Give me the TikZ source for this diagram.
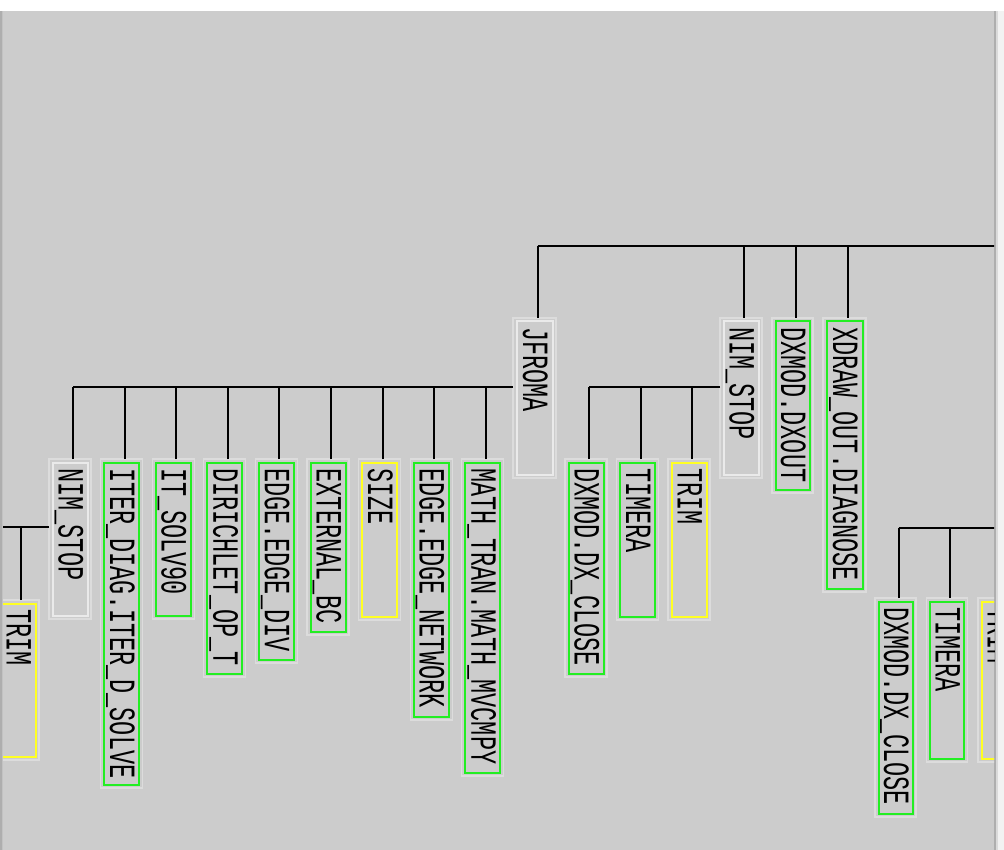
\documentclass[tikz,border=0pt]{standalone}
\usepackage{fontspec}
\newfontfamily\pixfont[FakeStretch=0.635]{Liberation Mono}
\usetikzlibrary{calc}
\definecolor{panel}{HTML}{CCCCCC}
\definecolor{frameout}{HTML}{DCDCDC}
\definecolor{framein}{HTML}{EAEAEA}
\definecolor{gbox}{HTML}{22EE22}
\definecolor{ybox}{HTML}{FFFF22}
\definecolor{edgedark}{HTML}{AEAEAE}
\definecolor{edgemid}{HTML}{C2C2C2}
\definecolor{edgelight}{HTML}{DADADA}
\definecolor{edgewhite}{HTML}{F2F2F2}
\newcommand\treebox[7]{%
  \node[boxframe, minimum width={(#4-#2)*1pt}, minimum height={(#5-#3)*1pt}] (#1) at ({(#2+#4)/2},{(#3+#5)/2}) {};
  \draw[#6, line width=2pt] ($(#1.north west)+(3.5,3.5)$) rectangle ($(#1.south east)+(-3.5,-3.5)$);
  \node[lab] (#1-t) at ($(#1.north)+(0,9)$) {#7};
  \coordinate (#1-d) at ($(#1.north)+(3,0)$);
}
\begin{document}
\begin{tikzpicture}[x=1pt,y=-1pt,
  wire/.style={draw=black, line width=2pt},
  boxframe/.style={rectangle, draw=frameout, line width=1.2pt, inner sep=0pt, outer sep=0pt},
  plain/.style={draw=framein, line width=1.2pt},
  green/.style={draw=gbox},
  yellow/.style={draw=ybox},
  lab/.style={rotate=-90, anchor=west, inner sep=0pt, text=black,
    font=\pixfont\fontsize{37}{37}\selectfont, text height=23pt, text depth=0pt}]
\useasboundingbox (0,0) rectangle (1004,850);
\fill[white] (0,0) rectangle (1004,850);
\fill[panel] (0,11) rectangle (996,850);
\fill[edgedark] (0,11) rectangle (1.5,850);
\fill[edgemid] (1.5,11) rectangle (3,850);
\fill[edgedark] (994,11) rectangle (996,850);
\fill[edgelight] (996,11) rectangle (998,850);
\fill[edgewhite] (998,11) rectangle (1004,850);
\begin{scope}
\clip (3,11) rectangle (994,850);
% top level
\treebox{jfroma}{513}{318}{556}{478}{plain}{JFROMA}
\treebox{nimA}{720}{318}{762}{478}{plain}{NIM\_STOP}
\treebox{dxout}{772}{318}{813}{493}{green}{DXMOD.DXOUT}
\treebox{xdraw}{823}{318}{866}{592}{green}{XDRAW\_OUT.DIAGNOSE}
% children of JFROMA
\treebox{nimB}{49}{459}{91}{619}{plain}{NIM\_STOP}
\treebox{iter}{100.6}{459}{142.6}{788}{green}{ITER\_DIAG.ITER\_D\_SOLVE}
\treebox{itsolv}{152.2}{459}{194.2}{619}{green}{IT\_SOLV90}
\treebox{dirich}{203.8}{459}{245.8}{677}{green}{DIRICHLET\_OP\_T}
\treebox{edgediv}{255.4}{459}{297.4}{663}{green}{EDGE.EDGE\_DIV}
\treebox{extbc}{307}{459}{349}{635}{green}{EXTERNAL\_BC}
\treebox{size}{358.6}{459}{400.6}{620}{yellow}{SIZE}
\treebox{edgenet}{410.2}{459}{452.2}{720}{green}{EDGE.EDGE\_NETWORK}
\treebox{mathtran}{461.8}{459}{503.8}{776}{green}{MATH\_TRAN.MATH\_MVCMPY}
% child of left NIM_STOP
\treebox{trimA}{-3}{600}{39}{760}{yellow}{TRIM}
% children of right NIM_STOP
\treebox{dxcloseA}{565}{459}{607}{677}{green}{DXMOD.DX\_CLOSE}
\treebox{timeraA}{616.5}{459}{658.5}{620}{green}{TIMERA}
\treebox{trimB}{668}{459}{710}{620}{yellow}{TRIM}
% lower right group
\treebox{dxcloseB}{875}{598}{916}{817}{green}{DXMOD.DX\_CLOSE}
\treebox{timeraB}{926.5}{598}{967.5}{762}{green}{TIMERA}
\treebox{trimC}{978}{598}{1020}{762}{yellow}{TRIM}
% connectors: top bus
\coordinate (topR) at (1000,246);
\draw[wire] (jfroma-d |- topR) -- (topR);
\foreach \c in {jfroma,nimA,dxout,xdraw} \draw[wire] (\c-d) -- (\c-d |- topR);
% JFROMA bus
\coordinate (jb) at ($(jfroma.north west)+(0,69)$);
\draw[wire] (jb) -- (nimB-d |- jb);
\foreach \c in {nimB,iter,itsolv,dirich,edgediv,extbc,size,edgenet,mathtran} \draw[wire] (\c-d) -- (\c-d |- jb);
% left NIM_STOP bus
\coordinate (nb) at ($(nimB.north west)+(0,68)$);
\coordinate (nbL) at (0,527);
\draw[wire] (nb) -- (nbL);
\draw[wire] (trimA-d) -- (trimA-d |- nb);
% right NIM_STOP bus
\coordinate (ab) at ($(nimA.north west)+(0,69)$);
\draw[wire] (ab) -- (dxcloseA-d |- ab);
\foreach \c in {dxcloseA,timeraA,trimB} \draw[wire] (\c-d) -- (\c-d |- ab);
% lower right bus
\coordinate (rb) at (1000,528);
\draw[wire] (dxcloseB-d |- rb) -- (rb);
\foreach \c in {dxcloseB,timeraB,trimC} \draw[wire] (\c-d) -- (\c-d |- rb);
\end{scope}
\end{tikzpicture}
\end{document}
